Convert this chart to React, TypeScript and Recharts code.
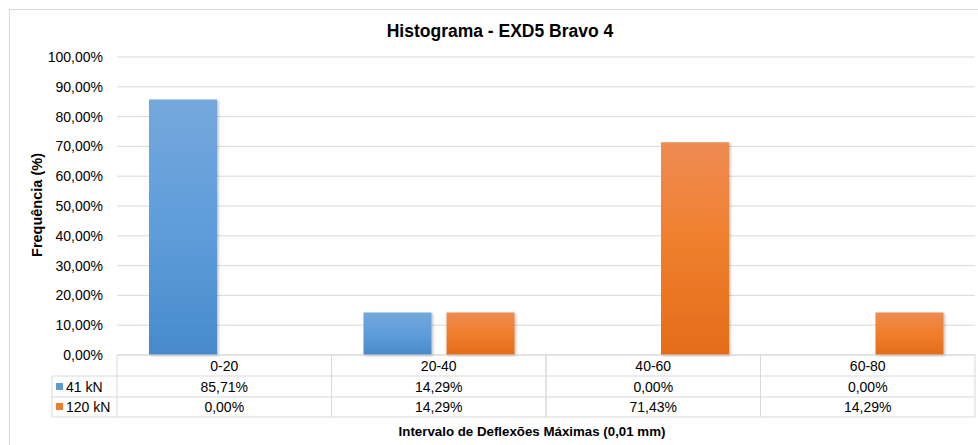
import React from 'react';
import { BarChart, Bar, XAxis, YAxis, CartesianGrid } from 'recharts';

const CATEGORIES = ['0-20', '20-40', '40-60', '60-80'];
const SERIES_41 = [0.8571, 0.1429, 0, 0];
const SERIES_120 = [0, 0.1429, 0.7143, 0.1429];
const SERIES_NAMES = ['41 kN', '120 kN'];
const Y_TICKS = [0, 0.1, 0.2, 0.3, 0.4, 0.5, 0.6, 0.7, 0.8, 0.9, 1];

const W = 978;
const H = 445;
const PLOT_LEFT = 117;
const PLOT_RIGHT = 975;
const PLOT_TOP = 57;
const PLOT_BOTTOM = 355;
const ROW_LINES = [376, 397, 417];
const ROW_CENTERS = [366, 387, 407];
const LEGEND_LEFT = 52;
const GRID = '#d9d9d9';
const FONT = '"Liberation Sans", Arial, sans-serif';
const SWATCH = ['#5b9bd5', '#ed7d31'];

const data = CATEGORIES.map((c, i) => ({ cat: c, a: SERIES_41[i], b: SERIES_120[i] }));

const pct = (v: number) => (v * 100).toFixed(2).replace('.', ',') + '%';

const TableTick = (props: any) => {
  const { x, index } = props;
  const bw = (PLOT_RIGHT - PLOT_LEFT) / CATEGORIES.length;
  const l = x - bw / 2;
  const r = x + bw / 2;
  const txt = { fontFamily: FONT, fontSize: 14, fill: '#000', textAnchor: 'middle' as const };
  return (
    <g>
      {ROW_LINES.map((y) => (
        <line key={y} x1={l} x2={r} y1={y} y2={y} stroke={GRID} />
      ))}
      <line x1={l} x2={l} y1={PLOT_BOTTOM} y2={417} stroke={GRID} />
      <line x1={r} x2={r} y1={PLOT_BOTTOM} y2={417} stroke={GRID} />
      <text x={x} y={ROW_CENTERS[0] + 5} {...txt}>{CATEGORIES[index]}</text>
      <text x={x} y={ROW_CENTERS[1] + 5} {...txt}>{pct(SERIES_41[index])}</text>
      <text x={x} y={ROW_CENTERS[2] + 5} {...txt}>{pct(SERIES_120[index])}</text>
      {index === 0 && (
        <g>
          {ROW_LINES.map((y) => (
            <line key={'lg' + y} x1={LEGEND_LEFT} x2={l} y1={y} y2={y} stroke={GRID} />
          ))}
          <line x1={LEGEND_LEFT} x2={LEGEND_LEFT} y1={376} y2={417} stroke={GRID} />
          {SERIES_NAMES.map((n, i) => (
            <g key={n}>
              <rect x={56} y={ROW_CENTERS[i + 1] - 4} width={7} height={7} fill={SWATCH[i]} />
              <text x={66} y={ROW_CENTERS[i + 1] + 5} fontFamily={FONT} fontSize={14} fill="#000">
                {n}
              </text>
            </g>
          ))}
        </g>
      )}
    </g>
  );
};

export default function App() {
  return (
    <div style={{ position: 'fixed', left: 0, top: 0, width: W, height: H, overflow: 'hidden', background: '#fff' }}>
      <div style={{ position: 'absolute', left: 9, top: 9, width: 1000, height: 500, border: `1px solid ${GRID}` }} />
      <div style={{ position: 'absolute', left: 0, top: 0 }}>
        <BarChart
          width={W}
          height={H}
          data={data}
          margin={{ top: PLOT_TOP, right: W - PLOT_RIGHT, left: 0, bottom: H - 417 }}
          barSize={68}
          barGap={15}
        >
          <defs>
            <linearGradient id="gBlue" x1="0" y1="0" x2="0" y2="1">
              <stop offset="0%" stopColor="#74a8dc" />
              <stop offset="50%" stopColor="#5f9dda" />
              <stop offset="100%" stopColor="#478acb" />
            </linearGradient>
            <linearGradient id="gOrange" x1="0" y1="0" x2="0" y2="1">
              <stop offset="0%" stopColor="#ee8b53" />
              <stop offset="45%" stopColor="#f0802e" />
              <stop offset="100%" stopColor="#e46c19" />
            </linearGradient>
            <filter id="shadow" x="-10%" y="-10%" width="130%" height="130%">
              <feDropShadow dx="1.5" dy="1" stdDeviation="1" floodColor="#000" floodOpacity="0.25" />
            </filter>
          </defs>
          <CartesianGrid vertical={false} stroke={GRID} />
          <XAxis
            dataKey="cat"
            height={417 - PLOT_BOTTOM}
            axisLine={{ stroke: GRID }}
            tickLine={false}
            interval={0}
            tick={(p: any) => <TableTick {...p} />}
          />
          <YAxis
            width={PLOT_LEFT}
            domain={[0, 1]}
            ticks={Y_TICKS}
            axisLine={false}
            tickLine={false}
            tickMargin={8}
            tickFormatter={pct}
            tick={{ fontFamily: FONT, fontSize: 14, fill: '#000' }}
          />
          <Bar dataKey="a" name={SERIES_NAMES[0]} fill="url(#gBlue)" filter="url(#shadow)" isAnimationActive={false} />
          <Bar dataKey="b" name={SERIES_NAMES[1]} fill="url(#gOrange)" filter="url(#shadow)" isAnimationActive={false} />
        </BarChart>
      </div>
      <svg width={W} height={H} style={{ position: 'absolute', left: 0, top: 0, pointerEvents: 'none' }}>
        <text x={500} y={37} textAnchor="middle" fontFamily={FONT} fontSize={17.5} fontWeight="bold" fill="#000">
          Histograma - EXD5 Bravo 4
        </text>
        <text x={532} y={436} textAnchor="middle" fontFamily={FONT} fontSize={13.3} fontWeight="bold" fill="#000">
          Intervalo de Deflexões Máximas (0,01 mm)
        </text>
        <text
          x={0}
          y={0}
          transform="translate(42 205) rotate(-90)"
          textAnchor="middle"
          fontFamily={FONT}
          fontSize={14.5}
          fontWeight="bold"
          fill="#000"
        >
          Frequência (%)
        </text>
      </svg>
    </div>
  );
}
